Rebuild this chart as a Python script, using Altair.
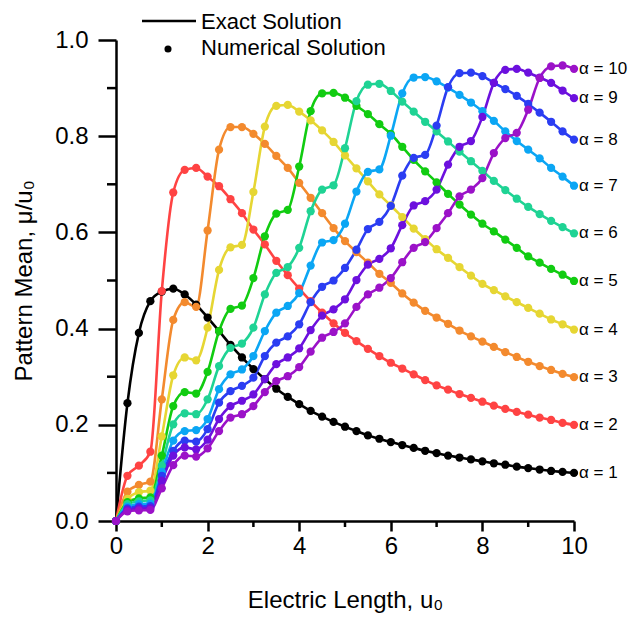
import altair as alt
import pandas as pd

u_values = [0, 0.25, 0.5, 0.75, 1, 1.25, 1.5, 1.75, 2, 2.25, 2.5, 2.75, 3, 3.25, 3.5, 3.75,
            4, 4.25, 4.5, 4.75, 5, 5.25, 5.5, 5.75, 6, 6.25, 6.5, 6.75, 7, 7.25, 7.5, 7.75,
            8, 8.25, 8.5, 8.75, 9, 9.25, 9.5, 9.75, 10]

a1 = [0, 0.245, 0.391, 0.457, 0.477, 0.483, 0.471, 0.450, 0.423, 0.395, 0.366, 0.340, 0.316, 0.295,
      0.275, 0.258, 0.243, 0.229, 0.217, 0.206, 0.196, 0.187, 0.178, 0.171, 0.164, 0.158, 0.152,
      0.146, 0.141, 0.136, 0.132, 0.128, 0.124, 0.120, 0.117, 0.113, 0.110, 0.107, 0.104, 0.102, 0.100]
a2 = [0, 0.094, 0.115, 0.144, 0.478, 0.683, 0.730, 0.734, 0.716, 0.696, 0.669, 0.640, 0.606, 0.575,
      0.541, 0.511, 0.483, 0.457, 0.433, 0.411, 0.391, 0.374, 0.358, 0.343, 0.329, 0.317, 0.305,
      0.293, 0.282, 0.273, 0.264, 0.256, 0.248, 0.240, 0.233, 0.227, 0.221, 0.215, 0.210, 0.204, 0.200]
a3 = [0, 0.061, 0.075, 0.082, 0.253, 0.418, 0.455, 0.445, 0.604, 0.772, 0.819, 0.819, 0.805, 0.784,
      0.759, 0.734, 0.703, 0.672, 0.640, 0.609, 0.582, 0.559, 0.537, 0.514, 0.495, 0.473, 0.454,
      0.437, 0.423, 0.410, 0.396, 0.384, 0.373, 0.362, 0.351, 0.341, 0.331, 0.322, 0.314, 0.306, 0.299]
a4 = [0, 0.046, 0.060, 0.063, 0.176, 0.303, 0.340, 0.334, 0.402, 0.522, 0.569, 0.574, 0.684, 0.820,
      0.863, 0.865, 0.851, 0.833, 0.812, 0.788, 0.760, 0.733, 0.706, 0.679, 0.656, 0.632, 0.608,
      0.586, 0.565, 0.547, 0.528, 0.510, 0.493, 0.480, 0.467, 0.455, 0.443, 0.431, 0.419, 0.409, 0.398]
a5 = [0, 0.039, 0.047, 0.049, 0.136, 0.239, 0.268, 0.265, 0.310, 0.395, 0.441, 0.448, 0.505, 0.592,
      0.639, 0.647, 0.737, 0.852, 0.889, 0.890, 0.880, 0.863, 0.846, 0.825, 0.805, 0.778, 0.751,
      0.727, 0.704, 0.680, 0.658, 0.637, 0.618, 0.602, 0.585, 0.568, 0.550, 0.537, 0.524, 0.512, 0.499]
a6 = [0, 0.035, 0.041, 0.043, 0.115, 0.201, 0.224, 0.222, 0.253, 0.322, 0.360, 0.369, 0.402, 0.471,
      0.516, 0.528, 0.568, 0.644, 0.689, 0.698, 0.775, 0.873, 0.907, 0.909, 0.894, 0.872, 0.851,
      0.830, 0.810, 0.789, 0.768, 0.748, 0.728, 0.707, 0.688, 0.670, 0.653, 0.638, 0.624, 0.611, 0.598]
a7 = [0, 0.030, 0.035, 0.036, 0.102, 0.167, 0.187, 0.189, 0.212, 0.274, 0.305, 0.315, 0.343, 0.395,
      0.433, 0.447, 0.474, 0.531, 0.579, 0.584, 0.618, 0.685, 0.726, 0.731, 0.801, 0.889, 0.922,
      0.923, 0.914, 0.901, 0.886, 0.870, 0.852, 0.832, 0.810, 0.790, 0.772, 0.754, 0.734, 0.716, 0.697]
a8 = [0, 0.026, 0.030, 0.031, 0.094, 0.146, 0.167, 0.165, 0.191, 0.246, 0.270, 0.281, 0.298, 0.343,
      0.371, 0.384, 0.409, 0.455, 0.487, 0.500, 0.526, 0.564, 0.607, 0.622, 0.655, 0.718, 0.755,
      0.761, 0.822, 0.902, 0.931, 0.932, 0.925, 0.911, 0.898, 0.884, 0.867, 0.849, 0.830, 0.810, 0.793]
a9 = [0, 0.023, 0.026, 0.027, 0.084, 0.136, 0.153, 0.149, 0.169, 0.212, 0.239, 0.250, 0.263, 0.295,
      0.326, 0.340, 0.359, 0.397, 0.427, 0.440, 0.461, 0.501, 0.533, 0.545, 0.567, 0.615, 0.656,
      0.665, 0.689, 0.741, 0.778, 0.790, 0.840, 0.911, 0.938, 0.940, 0.932, 0.922, 0.911, 0.895, 0.879]
a10 = [0, 0.020, 0.022, 0.023, 0.068, 0.116, 0.136, 0.134, 0.151, 0.187, 0.215, 0.222, 0.239, 0.268,
       0.291, 0.301, 0.320, 0.352, 0.381, 0.393, 0.411, 0.445, 0.471, 0.485, 0.505, 0.538, 0.568,
       0.580, 0.609, 0.640, 0.675, 0.689, 0.713, 0.765, 0.796, 0.807, 0.855, 0.921, 0.945, 0.947, 0.940]

x_major = [0, 2, 4, 6, 8, 10]
x_minor = [1, 3, 5, 7, 9]
y_major = [0, 0.2, 0.4, 0.6, 0.8, 1.0]
y_minor = [0.1, 0.3, 0.5, 0.7, 0.9]

series = [a1, a2, a3, a4, a5, a6, a7, a8, a9, a10]
labels = ["α = %d" % (i + 1) for i in range(10)]
colors = ["#000000", "#ff4343", "#f38a2e", "#e6d633", "#11cc11", "#1fd394",
          "#0ba6f4", "#2b3df2", "#6c10de", "#9b12c8"]

rows = []
for k, (lab, vals) in enumerate(zip(labels, series)):
    for i, (u, v) in enumerate(zip(u_values, vals)):
        rows.append({"u": u, "v": v, "alpha": lab, "k": k, "i": i})
df = pd.DataFrame(rows)

FONT = "Liberation Sans"
W, H = 458, 481

xs = alt.Scale(domain=[0, 10], nice=False)
ys = alt.Scale(domain=[0, 1], nice=False)

x_enc = alt.X("u:Q", scale=xs,
              axis=alt.Axis(values=x_major, format="d",
                            tickSize=10, tickWidth=2.5, tickColor="black",
                            domainWidth=2.5, domainColor="black",
                            labelFont=FONT, labelFontSize=24, labelColor="black", labelPadding=3,
                            labelFlush=False, labelOverlap=False, grid=False,
                            title="Electric Length, u₀", titleFont=FONT, titleFontSize=24,
                            titleFontWeight="normal", titleColor="black", titlePadding=30))
y_enc = alt.Y("v:Q", scale=ys,
              axis=alt.Axis(values=y_major, format=".1f",
                            tickSize=18, tickWidth=2.5, tickColor="black",
                            domainWidth=2.5, domainColor="black",
                            labelFont=FONT, labelFontSize=24, labelColor="black", labelPadding=10,
                            labelFlush=False, labelOverlap=False, grid=False,
                            title="Pattern Mean, μ/u₀", titleFont=FONT, titleFontSize=24,
                            titleFontWeight="normal", titleColor="black", titlePadding=18))

color_enc = alt.Color("alpha:N", scale=alt.Scale(domain=labels, range=colors), legend=None)

base = alt.Chart(df)
lines = base.mark_line(interpolate="monotone", strokeWidth=2.6).encode(
    x=x_enc, y=y_enc, color=color_enc, detail="k:N", order="i:Q")
points = base.mark_circle(size=68, opacity=1).encode(x="u:Q", y="v:Q", color=color_enc)
end_labels = base.transform_filter("datum.u == 10").mark_text(
    align="left", baseline="middle", dx=5, font=FONT, fontSize=17, color="black").encode(
    x="u:Q", y="v:Q", text="alpha:N")

xminor_ticks = alt.Chart(pd.DataFrame({"u": x_minor})).mark_rule(
    color="black", strokeWidth=2.5).encode(
    x="u:Q", y=alt.value(H), y2=alt.value(H + 6))
yminor_ticks = alt.Chart(pd.DataFrame({"v": y_minor})).mark_rule(
    color="black", strokeWidth=2.5).encode(
    y="v:Q", x=alt.value(0), x2=alt.value(-9))

one = pd.DataFrame({"z": [0]})
leg_line = alt.Chart(one).mark_rule(color="black", strokeWidth=2.5).encode(
    x=alt.value(26), x2=alt.value(80), y=alt.value(-19))
leg_dot = alt.Chart(one).mark_circle(color="black", opacity=1, size=50).encode(
    x=alt.value(52), y=alt.value(9))
leg_t1 = alt.Chart(one).mark_text(align="left", baseline="middle", font=FONT, fontSize=22,
                                  color="black").encode(
    x=alt.value(85), y=alt.value(-18), text=alt.value("Exact Solution"))
leg_t2 = alt.Chart(one).mark_text(align="left", baseline="middle", font=FONT, fontSize=22,
                                  color="black").encode(
    x=alt.value(85), y=alt.value(8), text=alt.value("Numerical Solution"))

chart = alt.layer(lines, points, end_labels, xminor_ticks, yminor_ticks,
                  leg_line, leg_dot, leg_t1, leg_t2).properties(
    width=W, height=H,
    autosize=alt.AutoSizeParams(type="none"),
    padding={"left": 108, "top": 32, "right": 54, "bottom": 99},
).configure_view(strokeWidth=0)

chart.save("out.html", embed_options={"renderer": "svg", "actions": False})
